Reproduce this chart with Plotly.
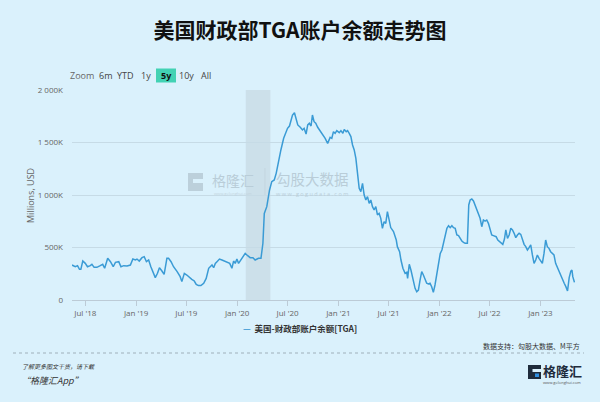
import plotly.graph_objects as go

# ---------------- data (values in thousands of millions USD, i.e. "K") ----------------
dates = [
    "2018-05-14", "2018-05-26", "2018-06-03", "2018-06-10", "2018-06-15", "2018-06-22", "2018-07-01",
    "2018-07-09", "2018-07-19", "2018-07-25", "2018-08-02", "2018-08-12", "2018-08-24", "2018-09-02",
    "2018-09-09", "2018-09-20", "2018-09-30", "2018-10-10", "2018-10-18", "2018-10-30", "2018-11-07",
    "2018-11-17", "2018-11-29", "2018-12-11", "2018-12-20", "2018-12-29",
    "2019-01-04", "2019-01-12", "2019-01-22", "2019-01-30", "2019-02-07", "2019-02-15", "2019-02-23",
    "2019-03-05", "2019-03-11", "2019-03-19", "2019-03-26", "2019-04-04", "2019-04-12", "2019-04-22",
    "2019-04-28", "2019-05-07", "2019-05-16", "2019-05-29", "2019-06-09", "2019-06-15", "2019-06-24",
    "2019-07-03", "2019-07-13", "2019-07-21", "2019-07-30", "2019-08-06", "2019-08-14", "2019-08-23",
    "2019-09-02", "2019-09-11", "2019-09-20", "2019-09-26", "2019-10-02", "2019-10-08", "2019-10-14",
    "2019-10-20", "2019-10-29", "2019-11-07", "2019-11-16", "2019-11-25", "2019-12-05", "2019-12-13",
    "2019-12-19", "2019-12-25", "2019-12-31",
    "2020-01-06", "2020-01-15", "2020-01-22", "2020-01-30", "2020-02-08", "2020-02-17", "2020-02-27",
    "2020-03-06", "2020-03-18", "2020-03-27", "2020-04-03", "2020-04-08", "2020-04-17", "2020-04-27",
    "2020-05-05", "2020-05-14", "2020-05-21", "2020-05-30", "2020-06-07", "2020-06-17", "2020-06-26",
    "2020-07-01", "2020-07-08", "2020-07-13", "2020-07-19", "2020-07-26", "2020-08-01", "2020-08-07",
    "2020-08-16", "2020-08-24", "2020-08-30", "2020-09-06", "2020-09-12", "2020-09-18", "2020-09-24",
    "2020-09-29", "2020-10-05", "2020-10-11", "2020-10-18", "2020-10-27", "2020-11-04", "2020-11-14",
    "2020-11-23", "2020-11-27", "2020-12-02", "2020-12-08", "2020-12-14", "2020-12-20", "2020-12-26",
    "2021-01-04", "2021-01-10", "2021-01-17", "2021-01-22", "2021-01-29", "2021-02-03", "2021-02-09",
    "2021-02-15", "2021-02-21", "2021-02-27", "2021-03-05", "2021-03-11", "2021-03-17", "2021-03-23",
    "2021-03-29", "2021-04-04", "2021-04-10", "2021-04-16", "2021-04-22", "2021-04-28", "2021-05-04",
    "2021-05-10", "2021-05-16", "2021-05-22", "2021-05-28", "2021-06-03", "2021-06-09", "2021-06-15",
    "2021-06-21", "2021-06-27", "2021-07-03", "2021-07-09", "2021-07-19", "2021-07-29", "2021-08-02",
    "2021-08-10", "2021-08-15", "2021-08-22", "2021-08-30", "2021-09-05", "2021-09-08", "2021-09-14",
    "2021-09-20", "2021-09-27", "2021-10-05", "2021-10-11", "2021-10-17", "2021-10-23", "2021-10-29",
    "2021-11-04", "2021-11-10", "2021-11-16", "2021-11-22", "2021-11-28", "2021-12-04", "2021-12-10",
    "2021-12-16", "2021-12-22", "2021-12-29",
    "2022-01-04", "2022-01-10", "2022-01-16", "2022-01-22", "2022-01-28", "2022-02-03", "2022-02-09",
    "2022-02-15", "2022-02-21", "2022-02-27", "2022-03-05", "2022-03-11", "2022-03-17", "2022-03-23",
    "2022-03-29", "2022-04-04", "2022-04-12", "2022-04-17", "2022-04-22", "2022-04-28", "2022-05-04",
    "2022-05-10", "2022-05-16", "2022-05-22", "2022-05-28", "2022-06-03", "2022-06-09", "2022-06-15",
    "2022-06-21", "2022-06-27", "2022-07-03", "2022-07-09", "2022-07-15", "2022-07-25", "2022-07-31",
    "2022-08-06", "2022-08-12", "2022-08-18", "2022-08-24", "2022-08-29", "2022-09-04", "2022-09-10",
    "2022-09-16", "2022-09-22", "2022-09-28", "2022-10-04", "2022-10-10", "2022-10-16", "2022-10-22",
    "2022-10-28", "2022-11-03", "2022-11-09", "2022-11-15", "2022-11-21", "2022-11-27", "2022-12-03",
    "2022-12-09", "2022-12-15", "2022-12-21", "2022-12-27",
    "2023-01-02", "2023-01-08", "2023-01-14", "2023-01-20", "2023-01-26", "2023-02-01", "2023-02-07",
    "2023-02-13", "2023-02-19", "2023-02-25", "2023-03-04", "2023-03-10", "2023-03-16", "2023-03-22",
    "2023-03-28", "2023-04-03", "2023-04-09", "2023-04-15", "2023-04-21", "2023-04-25", "2023-04-28",
    "2023-05-04",
]
tga_k = [
    333, 317, 327, 292, 292, 371, 349,
    317, 327, 340, 311, 311, 327, 340,
    302, 397, 365, 317, 359, 365, 317,
    327, 324, 333, 390, 381,
    390, 371, 403, 413, 365, 381, 317,
    238, 213, 254, 308, 276, 244, 397,
    397, 365, 317, 270, 222, 175, 254,
    238, 213, 197, 181, 149, 137, 137,
    159, 206, 302, 317, 333, 308, 349,
    365, 390, 381, 371, 365, 349, 302,
    371, 349, 390,
    349, 381, 413, 444, 422, 403, 403,
    381, 397, 397, 540, 825, 889, 1048,
    1127, 1143, 1206, 1333, 1429, 1540, 1603,
    1635, 1657, 1714, 1762, 1784, 1730, 1667,
    1645, 1619, 1635, 1581, 1667, 1683, 1657,
    1762, 1698, 1683, 1645, 1613, 1587, 1540,
    1492, 1524, 1549, 1540, 1603, 1587, 1613,
    1594, 1613, 1587, 1625, 1603, 1613, 1587,
    1556, 1476, 1429, 1349, 1206, 1063, 1032,
    1111, 1000, 952, 984, 921, 952, 889,
    857, 889, 810, 825, 778, 683, 746,
    730, 841, 746, 690, 651, 571, 508,
    460, 381, 302, 254, 264, 206, 340,
    286, 190, 111, 79, 95, 190, 270,
    238, 190, 159, 152, 159, 127, 73,
    143, 238, 349,
    444, 476, 556, 619, 683, 708, 689,
    708, 689, 683, 619, 613, 587, 562,
    549, 540, 540, 905, 952, 962, 943,
    898, 857, 803, 778, 698, 762, 752,
    762, 730, 667, 619, 613, 603, 571,
    556, 549, 530, 581, 667, 587, 619,
    683, 667, 635, 594, 619, 635, 625,
    571, 530, 508, 476, 498, 524, 429,
    349, 381, 429, 397,
    371, 349, 444, 571, 508, 492, 460,
    444, 429, 349, 302, 264, 222, 190,
    159, 127, 86, 213, 276, 286, 222,
    168,
]

x_tick_dates = ["2018-07-01", "2019-01-01", "2019-07-01", "2020-01-01", "2020-07-01",
                "2021-01-01", "2021-07-01", "2022-01-01", "2022-07-01", "2023-01-01"]
x_tick_labels = ["Jul '18", "Jan '19", "Jul '19", "Jan '20", "Jul '20",
                 "Jan '21", "Jul '21", "Jan '22", "Jul '22", "Jan '23"]
y_tick_values = [0, 500, 1000, 1500, 2000]
y_tick_labels = ["0", "500K", "1 000K", "1 500K", "2 000K"]
recession_band = ["2020-02-01", "2020-04-30"]
range_labels = ["Zoom", "6m", "YTD", "1y", "5y", "10y", "All"]
series_name = "美国-财政部账户余额[TGA]"
title_text = "美国财政部TGA账户余额走势图"
source_text = "数据支持：勾股大数据、M平方"

# ---------------- styling ----------------
W, H = 600, 402
L, R, T, B = 72, 25, 90, 102
PW, PH = W - L - R, H - T - B
BG = "#daf1fc"
LINE = "#3a9bd5"
GRID = "#c6dbe6"
CJK = "Noto Sans CJK SC"
LAT = "Open Sans"


def px(x):
    return (x - L) / PW


def py(y):
    return (H - B - y) / PH


fig = go.Figure()
fig.add_trace(go.Scatter(x=dates, y=tga_k, mode="lines", name=series_name,
                         line=dict(color=LINE, width=1.5), showlegend=False, hoverinfo="skip"))

shapes = [
    dict(type="rect", xref="x", yref="paper", x0=recession_band[0], x1=recession_band[1],
         y0=0, y1=1, fillcolor="#cce0ea", line=dict(width=0), layer="below"),
    # range selector active button
    dict(type="rect", xref="paper", yref="paper", x0=px(156), x1=px(176), y0=py(82.5), y1=py(68.5),
         fillcolor="#42d2b4", line=dict(width=0)),
    # dotted separator
    dict(type="line", xref="paper", yref="paper", x0=px(13), x1=px(584), y0=py(353), y1=py(353),
         line=dict(color="#9fb0ba", width=1, dash="dot")),
    # bottom-right logo icon
    dict(type="rect", xref="paper", yref="paper", x0=px(528), x1=px(541), y0=py(379), y1=py(365),
         fillcolor="#1f2c3c", line=dict(width=0)),
    dict(type="rect", xref="paper", yref="paper", x0=px(532.5), x1=px(541), y0=py(372), y1=py(369),
         fillcolor=BG, line=dict(width=0)),
    dict(type="rect", xref="paper", yref="paper", x0=px(535), x1=px(539), y0=py(377), y1=py(373.5),
         fillcolor="#2f8fe0", line=dict(width=0)),
    # watermark icon
    dict(type="rect", xref="paper", yref="paper", x0=px(188), x1=px(203), y0=py(191), y1=py(173),
         fillcolor="#bcd0db", line=dict(width=0), layer="below"),
    dict(type="rect", xref="paper", yref="paper", x0=px(193), x1=px(203), y0=py(183), y1=py(179),
         fillcolor=BG, line=dict(width=0), layer="below"),
    dict(type="line", xref="paper", yref="paper", x0=px(265), x1=px(265), y0=py(196), y1=py(168),
         line=dict(color="#c3d5df", width=1), layer="below"),
]

ann = []


def add_text(text, x, y, size, color, xanchor="center", family=LAT, yanchor="middle", **kw):
    ann.append(dict(text=text, x=px(x), y=py(y), xref="paper", yref="paper", showarrow=False,
                    xanchor=xanchor, yanchor=yanchor, font=dict(size=size, color=color, family=family), **kw))


# range selector labels
btn_x = [82, 105, 125, 146, 166, 186, 206]
for lab, bx in zip(range_labels, btn_x):
    col = "#666666" if lab == "Zoom" else ("#111111" if lab == "5y" else "#444444")
    add_text("<b>%s</b>" % lab if lab == "5y" else lab, bx, 75.5, 9, col)

# y axis title
add_text("Millions, USD", 30, 196, 9, "#666666", textangle=-90)
# legend
add_text("<span style='color:%s'><b>—</b></span>  <b>%s</b>" % (LINE, series_name), 300, 328, 8.5, "#333333",
         family=CJK)
# source
add_text(source_text, 582, 346, 7, "#333333", xanchor="right", family=CJK)
# bottom left promo
add_text("<i>了解更多图文干货，请下载</i>", 20, 366, 6, "#333333", xanchor="left", family=CJK)
add_text("<i>“格隆汇App”</i>", 19, 380, 9, "#333333", xanchor="left", family=CJK)
# logo text
add_text("<b>格隆汇</b>", 562, 370.5, 13, "#1f2c3c", family=CJK)
add_text("www.gelonghui.com", 562, 382, 4, "#555555")
# watermark
add_text("格隆汇", 233, 180, 14, "#b9cdd8", family=CJK)
add_text("www.gelonghui.com", 233, 193, 4, "#c3d4dd")
add_text("勾股大数据", 312, 178, 14.5, "#b9cdd8", family=CJK)
add_text("w w w . g o g u d a t a . c o m", 312, 194, 5.5, "#b9cdd8")

fig.update_layout(
    width=W, height=H,
    margin=dict(l=L, r=R, t=T, b=B),
    paper_bgcolor=BG, plot_bgcolor=BG,
    hovermode=False,
    title=dict(text="<b>%s</b>" % title_text, x=0.5, xref="container", xanchor="center",
               y=1 - 31 / H, yref="container", yanchor="middle",
               font=dict(size=21, color="#111111", family=CJK)),
    shapes=shapes,
    annotations=ann,
    showlegend=False,
    xaxis=dict(type="date", range=["2018-05-14", "2023-05-06"],
               tickvals=x_tick_dates, ticktext=x_tick_labels,
               showgrid=False, zeroline=False,
               showline=True, linecolor="#bccbd6", linewidth=1,
               ticks="outside", ticklen=5, tickcolor="#bccbd6",
               tickfont=dict(size=8, color="#666666", family=LAT)),
    yaxis=dict(range=[0, 2000], tickvals=y_tick_values, ticktext=y_tick_labels,
               showgrid=True, gridcolor=GRID, gridwidth=1, zeroline=False,
               showline=False, ticks="", ticklabelstandoff=8,
               tickfont=dict(size=8, color="#666666", family=LAT)),
)

fig.write_html("out.html", config={"displayModeBar": False},
               post_script="document.body.style.margin='0px';document.body.style.overflow='hidden';")
